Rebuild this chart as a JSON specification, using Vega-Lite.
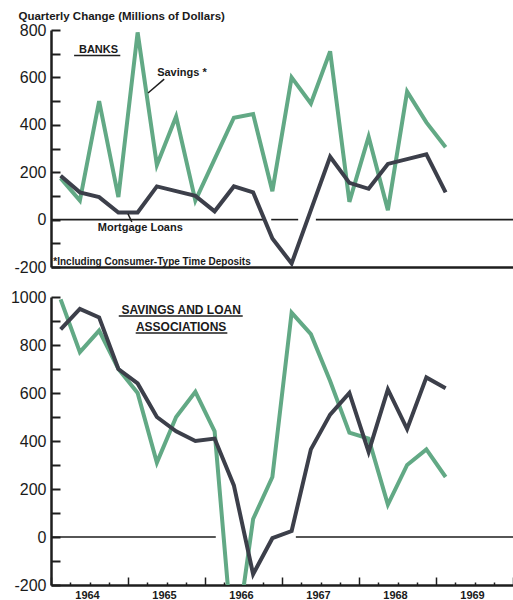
{
  "$schema": "https://vega.github.io/schema/vega-lite/v6.json",
  "background": "white",
  "padding": {"left": 10, "top": 10, "right": 0, "bottom": 0},
  "spacing": 14,
  "config": {
    "view": {"stroke": null},
    "font": "Liberation Sans",
    "axis": {"grid": false, "domainColor": "#1e1e1e", "tickColor": "#1e1e1e", "labelColor": "#1a1a1a", "titleColor": "#1a1a1a"}
  },
  "datasets": {
    "banks": [
      {"t": 1964.125, "series": "Savings", "v": 175}, {"t": 1964.375, "series": "Savings", "v": 80},
      {"t": 1964.625, "series": "Savings", "v": 500}, {"t": 1964.875, "series": "Savings", "v": 95},
      {"t": 1965.125, "series": "Savings", "v": 790}, {"t": 1965.375, "series": "Savings", "v": 230},
      {"t": 1965.625, "series": "Savings", "v": 435}, {"t": 1965.875, "series": "Savings", "v": 80},
      {"t": 1966.125, "series": "Savings", "v": 255}, {"t": 1966.375, "series": "Savings", "v": 430},
      {"t": 1966.625, "series": "Savings", "v": 445}, {"t": 1966.875, "series": "Savings", "v": 120},
      {"t": 1967.125, "series": "Savings", "v": 600}, {"t": 1967.375, "series": "Savings", "v": 490},
      {"t": 1967.625, "series": "Savings", "v": 710}, {"t": 1967.875, "series": "Savings", "v": 75},
      {"t": 1968.125, "series": "Savings", "v": 350}, {"t": 1968.375, "series": "Savings", "v": 40},
      {"t": 1968.625, "series": "Savings", "v": 540}, {"t": 1968.875, "series": "Savings", "v": 410},
      {"t": 1969.125, "series": "Savings", "v": 305},
      {"t": 1964.125, "series": "Mortgage", "v": 185}, {"t": 1964.375, "series": "Mortgage", "v": 115},
      {"t": 1964.625, "series": "Mortgage", "v": 95}, {"t": 1964.875, "series": "Mortgage", "v": 30},
      {"t": 1965.125, "series": "Mortgage", "v": 30}, {"t": 1965.375, "series": "Mortgage", "v": 140},
      {"t": 1965.625, "series": "Mortgage", "v": 120}, {"t": 1965.875, "series": "Mortgage", "v": 100},
      {"t": 1966.125, "series": "Mortgage", "v": 35}, {"t": 1966.375, "series": "Mortgage", "v": 140},
      {"t": 1966.625, "series": "Mortgage", "v": 115}, {"t": 1966.875, "series": "Mortgage", "v": -80},
      {"t": 1967.125, "series": "Mortgage", "v": -185}, {"t": 1967.375, "series": "Mortgage", "v": 40},
      {"t": 1967.625, "series": "Mortgage", "v": 265}, {"t": 1967.875, "series": "Mortgage", "v": 155},
      {"t": 1968.125, "series": "Mortgage", "v": 130}, {"t": 1968.375, "series": "Mortgage", "v": 235},
      {"t": 1968.625, "series": "Mortgage", "v": 255}, {"t": 1968.875, "series": "Mortgage", "v": 275},
      {"t": 1969.125, "series": "Mortgage", "v": 115}
    ],
    "sl": [
      {"t": 1964.125, "series": "Savings", "v": 990}, {"t": 1964.375, "series": "Savings", "v": 770},
      {"t": 1964.625, "series": "Savings", "v": 860}, {"t": 1964.875, "series": "Savings", "v": 700},
      {"t": 1965.125, "series": "Savings", "v": 600}, {"t": 1965.375, "series": "Savings", "v": 310},
      {"t": 1965.625, "series": "Savings", "v": 500}, {"t": 1965.875, "series": "Savings", "v": 605},
      {"t": 1966.125, "series": "Savings", "v": 440}, {"t": 1966.375, "series": "Savings", "v": -500},
      {"t": 1966.625, "series": "Savings", "v": 75}, {"t": 1966.875, "series": "Savings", "v": 250},
      {"t": 1967.125, "series": "Savings", "v": 935}, {"t": 1967.375, "series": "Savings", "v": 845},
      {"t": 1967.625, "series": "Savings", "v": 650}, {"t": 1967.875, "series": "Savings", "v": 435},
      {"t": 1968.125, "series": "Savings", "v": 410}, {"t": 1968.375, "series": "Savings", "v": 135},
      {"t": 1968.625, "series": "Savings", "v": 300}, {"t": 1968.875, "series": "Savings", "v": 365},
      {"t": 1969.125, "series": "Savings", "v": 250},
      {"t": 1964.125, "series": "Mortgage", "v": 865}, {"t": 1964.375, "series": "Mortgage", "v": 950},
      {"t": 1964.625, "series": "Mortgage", "v": 915}, {"t": 1964.875, "series": "Mortgage", "v": 700},
      {"t": 1965.125, "series": "Mortgage", "v": 640}, {"t": 1965.375, "series": "Mortgage", "v": 500},
      {"t": 1965.625, "series": "Mortgage", "v": 440}, {"t": 1965.875, "series": "Mortgage", "v": 400},
      {"t": 1966.125, "series": "Mortgage", "v": 410}, {"t": 1966.375, "series": "Mortgage", "v": 215},
      {"t": 1966.625, "series": "Mortgage", "v": -155}, {"t": 1966.875, "series": "Mortgage", "v": -5},
      {"t": 1967.125, "series": "Mortgage", "v": 25}, {"t": 1967.375, "series": "Mortgage", "v": 365},
      {"t": 1967.625, "series": "Mortgage", "v": 510}, {"t": 1967.875, "series": "Mortgage", "v": 600},
      {"t": 1968.125, "series": "Mortgage", "v": 355}, {"t": 1968.375, "series": "Mortgage", "v": 615},
      {"t": 1968.625, "series": "Mortgage", "v": 450}, {"t": 1968.875, "series": "Mortgage", "v": 665},
      {"t": 1969.125, "series": "Mortgage", "v": 620}
    ],
    "zeroTop": [{"t": 1964, "t2": 1966.79, "v": 0}, {"t": 1966.86, "t2": 1967.21, "v": 0}, {"t": 1967.44, "t2": 1970, "v": 0}],
    "zeroBottom": [{"t": 1964, "t2": 1966.14, "v": 0}, {"t": 1967.18, "t2": 1970, "v": 0}],
    "textTopCenter": [
      {"label": "BANKS", "t": 1964.617, "v": 716},
      {"label": "Savings *", "t": 1965.70, "v": 619},
      {"label": "Mortgage Loans", "t": 1965.16, "v": -37}
    ],
    "textTopLeft": [{"label": "*Including Consumer-Type Time Deposits", "t": 1964.03, "v": -177}],
    "segTop": [
      {"t": 1964.30, "t2": 1964.90, "v": 692, "v2": 692},
      {"t": 1965.26, "t2": 1965.47, "v": 534, "v2": 593},
      {"t": 1965.0, "t2": 1965.05, "v": 24, "v2": -10}
    ],
    "textBottom": [
      {"label": "SAVINGS AND LOAN", "t": 1965.69, "v": 946},
      {"label": "ASSOCIATIONS", "t": 1965.69, "v": 875}
    ],
    "segBottom": [
      {"t": 1964.88, "t2": 1966.49, "v": 921, "v2": 921},
      {"t": 1965.10, "t2": 1966.29, "v": 850, "v2": 850}
    ]
  },
  "vconcat": [
    {
      "width": 462,
      "height": 237,
      "encoding": {
        "x": {"field": "t", "type": "quantitative", "scale": {"domain": [1964, 1970], "nice": false, "zero": false},
          "axis": {"values": [], "ticks": false, "labels": false, "domainWidth": 2.5, "title": null}},
        "y": {"field": "v", "type": "quantitative", "scale": {"domain": [-200, 800], "nice": false},
          "axis": {"values": [-200, -100, 0, 100, 200, 300, 400, 500, 600, 700, 800],
            "labelExpr": "datum.value % 200 == 0 ? '' + datum.value : ''",
            "tickSize": -9, "tickWidth": 2, "labelPadding": 14, "labelFontSize": 16, "domainWidth": 2.5,
            "title": "Quarterly Change (Millions of Dollars)", "titleAngle": 0, "titleX": -33, "titleY": -9,
            "titleAlign": "left", "titleBaseline": "bottom", "titleFontSize": 11.5, "titleFontWeight": "bold"}}
      },
      "layer": [
        {
          "data": {"name": "zeroTop"},
          "mark": {"type": "rule", "stroke": "#1e1e1e", "strokeWidth": 1.6},
          "encoding": {"x2": {"field": "t2"}}
        },
        {
          "data": {"name": "banks"},
          "mark": {"type": "line", "strokeWidth": 4, "strokeJoin": "miter", "clip": true},
          "encoding": {
            "color": {"field": "series", "type": "nominal", "legend": null,
              "scale": {"domain": ["Savings", "Mortgage"], "range": ["#62a985", "#3c3f4a"]}},
            "order": {"field": "t"}
          }
        },
        {
          "data": {"name": "segTop"},
          "mark": {"type": "rule", "stroke": "#1e1e1e", "strokeWidth": 1.5},
          "encoding": {"x2": {"field": "t2"}, "y2": {"field": "v2"}}
        },
        {
          "data": {"name": "textTopCenter"},
          "mark": {"type": "text", "font": "Liberation Sans", "fontWeight": "bold", "fontSize": 11, "align": "center", "baseline": "middle", "color": "#1a1a1a"},
          "encoding": {"text": {"field": "label"}}
        },
        {
          "data": {"name": "textTopLeft"},
          "mark": {"type": "text", "font": "Liberation Sans", "fontWeight": "bold", "fontSize": 10, "align": "left", "baseline": "middle", "color": "#1a1a1a"},
          "encoding": {"text": {"field": "label"}}
        }
      ]
    },
    {
      "width": 462,
      "height": 288,
      "encoding": {
        "x": {"field": "t", "type": "quantitative", "scale": {"domain": [1964, 1970], "nice": false, "zero": false},
          "axis": {"values": [1964, 1964.25, 1964.5, 1964.75, 1965, 1965.25, 1965.5, 1965.75, 1966, 1966.25, 1966.5, 1966.75, 1967, 1967.25, 1967.5, 1967.75, 1968, 1968.25, 1968.5, 1968.75, 1969, 1969.25, 1969.5, 1969.75, 1970],
            "labelExpr": "datum.value % 1 == 0 && datum.value < 1970 ? format(datum.value, 'd') : ''",
            "labelOffset": 36, "labelFlush": false, "labelOverlap": false, "labelBound": false,
            "tickSize": {"condition": {"test": "datum.value % 1 == 0", "value": -8}, "value": -3},
            "tickWidth": 1.5, "labelPadding": 12, "labelFontSize": 11, "labelFontWeight": "bold",
            "domainWidth": 2.5, "title": null}},
        "y": {"field": "v", "type": "quantitative", "scale": {"domain": [-200, 1000], "nice": false},
          "axis": {"values": [-200, -100, 0, 100, 200, 300, 400, 500, 600, 700, 800, 900, 1000],
            "labelExpr": "datum.value % 200 == 0 ? '' + datum.value : ''",
            "tickSize": -9, "tickWidth": 2, "labelPadding": 14, "labelFontSize": 16, "domainWidth": 2.5,
            "title": null}}
      },
      "layer": [
        {
          "data": {"name": "zeroBottom"},
          "mark": {"type": "rule", "stroke": "#1e1e1e", "strokeWidth": 1.6},
          "encoding": {"x2": {"field": "t2"}}
        },
        {
          "data": {"name": "sl"},
          "mark": {"type": "line", "strokeWidth": 4, "strokeJoin": "miter", "clip": true},
          "encoding": {
            "color": {"field": "series", "type": "nominal", "legend": null,
              "scale": {"domain": ["Savings", "Mortgage"], "range": ["#62a985", "#3c3f4a"]}},
            "order": {"field": "t"}
          }
        },
        {
          "data": {"name": "segBottom"},
          "mark": {"type": "rule", "stroke": "#1e1e1e", "strokeWidth": 1.5},
          "encoding": {"x2": {"field": "t2"}, "y2": {"field": "v2"}}
        },
        {
          "data": {"name": "textBottom"},
          "mark": {"type": "text", "font": "Liberation Sans", "fontWeight": "bold", "fontSize": 12, "align": "center", "baseline": "middle", "color": "#1a1a1a"},
          "encoding": {"text": {"field": "label"}}
        }
      ]
    }
  ]
}
